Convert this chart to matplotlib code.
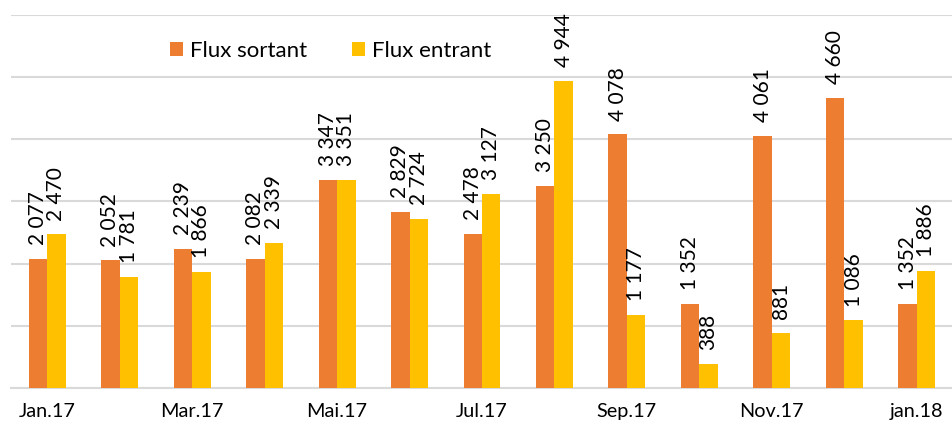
import matplotlib
matplotlib.use("Agg")
import matplotlib.pyplot as plt
import numpy as np

months = ["Jan.17", "Feb.17", "Mar.17", "Avr.17", "Mai.17", "Jun.17", "Jul.17",
          "Aou.17", "Sep.17", "Oct.17", "Nov.17", "Dec.17", "jan.18"]
flux_sortant = [2077, 2052, 2239, 2082, 3347, 2829, 2478, 3250, 4078, 1352, 4061, 4660, 1352]
flux_entrant = [2470, 1781, 1866, 2339, 3351, 2724, 3127, 4944, 1177, 388, 881, 1086, 1886]
shown_ticks = ["Jan.17", "Mar.17", "Mai.17", "Jul.17", "Sep.17", "Nov.17", "jan.18"]

plt.rcParams['font.family'] = ['Lato', 'DejaVu Sans']

fig = plt.figure(figsize=(9.53, 4.30), dpi=100)
ax = fig.add_axes([0.0115, 0.0977, 0.9885, 0.8674])

x = np.arange(len(months))
w = 0.255
orange = "#ED7D31"
yellow = "#FFC000"
b1 = ax.bar(x - w/2, flux_sortant, w, color=orange, label="Flux sortant", zorder=3)
b2 = ax.bar(x + w/2, flux_entrant, w, color=yellow, label="Flux entrant", zorder=3)

def fmt(v):
    return f"{v:,}".replace(",", " ")

for bars, vals in ((b1, flux_sortant), (b2, flux_entrant)):
    for r, v in zip(bars, vals):
        ax.annotate(fmt(v), (r.get_x() + r.get_width()/2, v), xytext=(0, 10),
                    textcoords="offset points", rotation=90, ha="center", va="bottom",
                    fontsize=15, color="black")

ax.set_xlim(-0.5, len(months) - 0.5)
ax.set_ylim(0, 6000)
ax.set_yticks(range(0, 6001, 1000))
ax.yaxis.grid(True, color="#d9d9d9", linewidth=1.5, zorder=0)
ax.tick_params(axis="y", left=False, labelleft=False)
ax.set_xticks([months.index(m) for m in shown_ticks])
ax.set_xticklabels(shown_ticks, fontsize=14.3)
ax.tick_params(axis="x", length=0, pad=11)
for s in ["top", "right", "left"]:
    ax.spines[s].set_visible(False)
ax.spines["bottom"].set_color("#d9d9d9")
ax.spines["bottom"].set_linewidth(1.5)

ax.legend(loc="center left", bbox_to_anchor=(0.169, 0.9035), ncol=2, frameon=False,
          fontsize=16, handlelength=0.6, handleheight=0.6, columnspacing=2.0,
          handletextpad=0.3, borderaxespad=0, borderpad=0)

fig.savefig("out.png", dpi=100)
